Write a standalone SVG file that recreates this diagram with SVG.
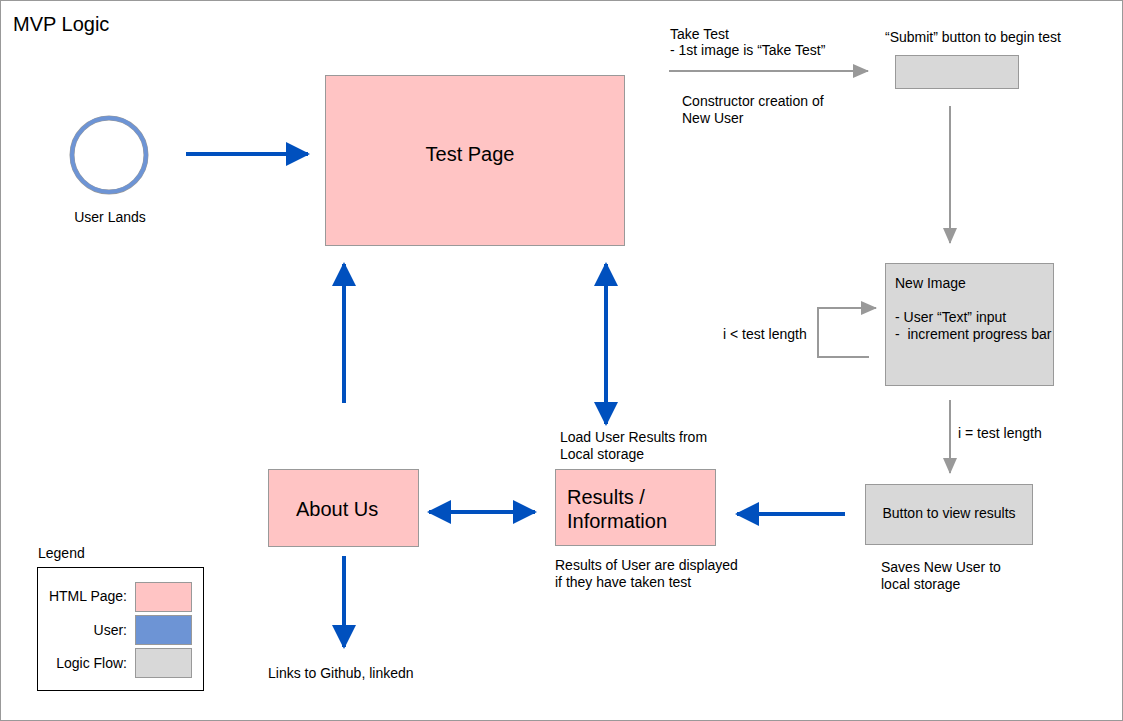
<svg xmlns="http://www.w3.org/2000/svg" width="1123" height="721" viewBox="0 0 1123 721">
<style>
text{font-family:"Liberation Sans",Arial,sans-serif;fill:#000;font-size:14px}
.big{font-size:20px}
.page{fill:#FFC4C4;stroke:#999;stroke-width:1}
.logic{fill:#D8D8D8;stroke:#999;stroke-width:1}
.blue{stroke:#0050BE;stroke-width:4;fill:none}
.gray{stroke:#999;stroke-width:2;fill:none}
</style>
<defs>
<marker id="bh" viewBox="0 0 24 24" refX="22" refY="12" markerWidth="24" markerHeight="24" markerUnits="userSpaceOnUse" orient="auto-start-reverse"><path d="M0,0 L24,12 L0,24 Z" fill="#0050BE"/></marker>
<marker id="gh" viewBox="0 0 16 14" refX="15" refY="7" markerWidth="16" markerHeight="14" markerUnits="userSpaceOnUse" orient="auto"><path d="M0,0 L16,7 L0,14 Z" fill="#999"/></marker>
</defs>
<rect x="0.5" y="0.5" width="1122" height="720" fill="#fff" stroke="#999"/>
<text x="13" y="31" class="big">MVP Logic</text>

<g id="connectors">
<line x1="186" y1="154" x2="308" y2="154" class="blue" marker-end="url(#bh)"/>
<line x1="344" y1="403" x2="344" y2="264" class="blue" marker-end="url(#bh)"/>
<line x1="606" y1="264" x2="606" y2="424" class="blue" marker-start="url(#bh)" marker-end="url(#bh)"/>
<line x1="429" y1="512" x2="535" y2="512" class="blue" marker-start="url(#bh)" marker-end="url(#bh)"/>
<line x1="344" y1="556" x2="344" y2="647" class="blue" marker-end="url(#bh)"/>
<line x1="845" y1="514" x2="737" y2="514" class="blue" marker-end="url(#bh)"/>
<line x1="669" y1="71" x2="868" y2="71" class="gray" marker-end="url(#gh)"/>
<line x1="950" y1="106" x2="950" y2="243" class="gray" marker-end="url(#gh)"/>
<polyline points="869,357 818,357 818,308 876,308" class="gray" marker-end="url(#gh)"/>
<line x1="950" y1="400" x2="950" y2="473" class="gray" marker-end="url(#gh)"/>
</g>

<g id="user-lands">
<circle cx="109" cy="155" r="37" fill="#fff" stroke="#999" stroke-width="5"/>
<circle cx="109" cy="155" r="37" fill="none" stroke="#6D94D5" stroke-width="4"/>
<text x="110" y="222" text-anchor="middle">User Lands</text>
</g>

<g id="test-page">
<rect x="325.5" y="75.5" width="299" height="170" class="page"/>
<text x="470" y="161" text-anchor="middle" class="big">Test Page</text>
</g>

<g id="take-test-label">
<text x="670" y="39">Take Test</text>
<text x="670" y="55">- 1st image is “Take Test”</text>
<text x="682" y="106">Constructor creation of</text>
<text x="682" y="123">New User</text>
</g>

<g id="submit">
<text x="885" y="42">“Submit” button to begin test</text>
<rect x="895.5" y="55.5" width="123" height="33" class="logic"/>
</g>

<g id="new-image">
<rect x="885.5" y="263.5" width="168" height="122" class="logic"/>
<text x="895" y="288">New Image</text>
<text x="895" y="322">- User “Text” input</text>
<text x="895" y="339" style="white-space:pre">-  increment progress bar</text>
</g>
<text x="723" y="339">i &lt; test length</text>
<text x="958" y="438">i = test length</text>

<g id="view-results">
<rect x="865.5" y="484.5" width="167" height="60" class="logic"/>
<text x="949" y="518" text-anchor="middle">Button to view results</text>
<text x="881" y="572">Saves New User to</text>
<text x="881" y="589">local storage</text>
</g>

<g id="results">
<text x="560" y="442">Load User Results from</text>
<text x="560" y="459">Local storage</text>
<rect x="555.5" y="469.5" width="160" height="76" class="page"/>
<text x="567" y="504" class="big">Results /</text>
<text x="567" y="528" class="big">Information</text>
<text x="555" y="570">Results of User are displayed</text>
<text x="555" y="587">if they have taken test</text>
</g>

<g id="about-us">
<rect x="268.5" y="469.5" width="150" height="77" class="page"/>
<text x="296" y="516" class="big">About Us</text>
</g>
<text x="268" y="678">Links to Github, linkedn</text>

<g id="legend">
<text x="38" y="558">Legend</text>
<rect x="37.5" y="567.5" width="166" height="123" fill="#fff" stroke="#000"/>
<text x="127" y="601" text-anchor="end">HTML Page:</text>
<rect x="135.5" y="582.5" width="56" height="29" class="page"/>
<text x="127" y="635" text-anchor="end">User:</text>
<rect x="135.5" y="615.5" width="56" height="29" fill="#6D94D5" stroke="#999"/>
<text x="127" y="668" text-anchor="end">Logic Flow:</text>
<rect x="135.5" y="648.5" width="56" height="29" class="logic"/>
</g>
</svg>
